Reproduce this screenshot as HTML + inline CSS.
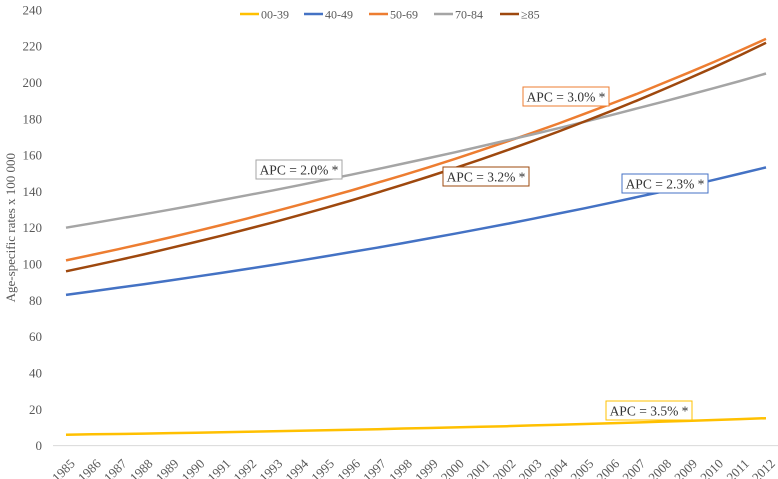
<!DOCTYPE html>
<html><head><meta charset="utf-8"><style>
body{margin:0;background:#fff}
svg{display:block;font-family:"Liberation Serif",serif}
</style></head><body>
<svg id="chart" width="778" height="479"></svg>
<script>
const years=[1985,1986,1987,1988,1989,1990,1991,1992,1993,1994,1995,1996,1997,1998,1999,2000,2001,2002,2003,2004,2005,2006,2007,2008,2009,2010,2011,2012];
const yTicks=[0,20,40,60,80,100,120,140,160,180,200,220,240];
const seriesNames=["00-39","40-49","50-69","70-84","≥85"];
const s0039=[6,6.2,6.4,6.6,6.9,7.1,7.4,7.6,7.9,8.2,8.4,8.7,9.0,9.4,9.7,10.0,10.4,10.7,11.1,11.5,11.9,12.3,12.7,13.2,13.6,14.1,14.6,15.1];
const s4049=[83,84.9,86.9,88.9,90.9,93.0,95.1,97.3,99.5,101.8,104.2,106.6,109.0,111.5,114.1,116.7,119.4,122.1,124.9,127.8,130.7,133.7,136.8,139.9,143.1,146.4,149.8,153.2];
const s5069=[102,105.0,108.1,111.3,114.6,118.0,121.5,125.1,128.8,132.6,136.5,140.5,144.7,148.9,153.3,157.9,162.6,167.4,172.3,177.4,182.7,188.1,193.6,199.4,205.3,211.3,217.6,224.0];
const s7084=[120,122.4,124.9,127.4,129.9,132.5,135.2,137.9,140.6,143.4,146.3,149.2,152.2,155.3,158.4,161.5,164.8,168.1,171.4,174.8,178.3,181.9,185.6,189.3,193.1,196.9,200.8,204.9];
const s85=[96,99.0,102.1,105.3,108.7,112.1,115.6,119.3,123.0,126.9,130.9,135.0,139.3,143.7,148.2,152.8,157.6,162.6,167.7,173.0,178.5,184.1,189.9,195.9,202.1,208.4,215.0,221.8];
const apcLabels=["APC = 3.5% *","APC = 2.3% *","APC = 3.0% *","APC = 2.0% *","APC = 3.2% *"];

const colors=["#FFC000","#4472C4","#ED7D31","#A5A5A5","#9E480E"];
const allSeries=[s0039,s4049,s5069,s7084,s85];
const NS="http://www.w3.org/2000/svg";
const svg=document.getElementById("chart");
const x0=53,x1=779,y0=445.6,yTop=9.8;
const step=(x1-x0)/years.length;
const X=i=>x0+step*(i+0.5);
const Y=v=>y0-(v/240)*(y0-yTop);
function el(t,a,p){const e=document.createElementNS(NS,t);for(const k in a)e.setAttribute(k,a[k]);(p||svg).appendChild(e);return e;}

yTicks.forEach(v=>{
  const t=el("text",{x:42,y:Y(v)+4.5,"text-anchor":"end","font-size":13,fill:"#595959"});
  t.textContent=v;
  
  
});
const ax=el("line",{x1:x0,x2:x1,y1:y0,y2:y0,stroke:"#d9d9d9","stroke-width":1});


years.forEach((yr,i)=>{
  const cx=X(i)+3,cy=y0+12;
  const t=el("text",{x:cx,y:cy,"text-anchor":"end","font-size":13,fill:"#595959",transform:`rotate(-45 ${cx} ${cy})`,"dominant-baseline":"hanging"});
  t.textContent=yr;
  
  
});
const yt=el("text",{x:0,y:0,"text-anchor":"middle","font-size":13,fill:"#595959",transform:`translate(15 ${Y(120)}) rotate(-90)`});
yt.textContent="Age-specific rates x 100 000";



allSeries.forEach((s,k)=>{
  const d=s.map((v,i)=>(i?"L":"M")+X(i).toFixed(1)+" "+Y(v).toFixed(1)).join(" ");
  const p=el("path",{d,fill:"none",stroke:colors[k],"stroke-width":2.5});
  
  
});

const legX=[240,304,369,434,500];
seriesNames.forEach((n,k)=>{
  const g=el("g",{});
  
  
  el("line",{x1:legX[k],x2:legX[k]+19,y1:14,y2:14,stroke:colors[k],"stroke-width":2.5},g);
  const t=el("text",{x:legX[k]+21,y:18.5,"font-size":12,fill:"#595959"},g);
  t.textContent=n;
});

const boxes=[[606,401],[622,174],[523,87],[256,160],[443,167]];
apcLabels.forEach((lab,k)=>{
  const [bx,by]=boxes[k];
  const g=el("g",{});
  
  
  el("rect",{x:bx,y:by,width:86,height:19,fill:"#fff",stroke:colors[k],"stroke-width":1},g);
  const t=el("text",{x:bx+43,y:by+14.5,"text-anchor":"middle","font-size":13.5,fill:"#333"},g);
  t.textContent=lab;
});
</script>
</body></html>
